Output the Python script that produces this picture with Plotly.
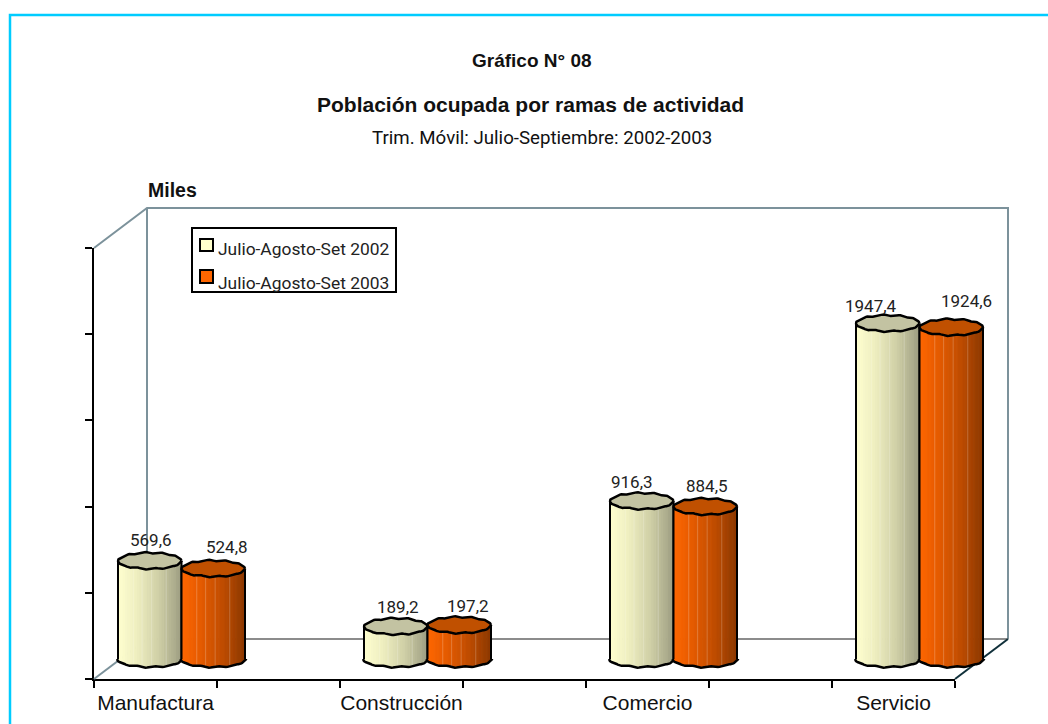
import numpy as np
import plotly.graph_objects as go

categories = ["Manufactura", "Construcción", "Comercio", "Servicio"]
series_names = ["Julio-Agosto-Set 2002", "Julio-Agosto-Set 2003"]
values_2002 = [569.6, 189.2, 916.3, 1947.4]
values_2003 = [524.8, 197.2, 884.5, 1924.6]
value_labels_2002 = ["569,6", "189,2", "916,3", "1947,4"]
value_labels_2003 = ["524,8", "197,2", "884,5", "1924,6"]

# labels were dragged by hand in the original, so each has its own shift (px)
shift_x_2002 = [1, 2, -10, -17]
shift_x_2003 = [14, 9, 2, 15]
shift_y_2002 = [2, 0, 0, -2]
shift_y_2003 = [3, 0, 2, 7]

W, H = 1048, 724
L, R, T, B = 94, 955, 248, 679
NARROW = "Roboto, Liberation Sans, Arial"
PLAIN = "Liberation Sans, Arial"

# axis scales
x_range = [-0.5, 6.5]
y_range = [0, 2500]
px_x = (R - L) / 7
px_y = (B - T) / 2500

# second pair of axes, same scale, wider, so the oblique box is not clipped
x2_range = [x_range[0] + (60 - L) / px_x, x_range[0] + (W - L) / px_x]
y2_range = [(B - 700) / px_y, (B - 190) / px_y]

# oblique depth of the fake 3d box, in axis units
dx_back = 53 / px_x
dy_back = 40 / px_y
bar_w = 63.5 / px_x
cap_h = 8 / px_y
n_strip = 26
facets = [0.24, 0.38, 0.53, 0.76]


def paper_x(p):
    return p / W


def paper_y(p):
    return 1 - p / H


def wavy(theta):
    return 1 + 0.1 * np.cos(11 * theta)


def shade(stops, t):
    ts = np.linspace(0, 1, len(stops))
    return "rgb(%d,%d,%d)" % tuple(round(np.interp(t, ts, [s[i] for s in stops])) for i in range(3))


stops_2002 = [(255, 255, 208), (236, 236, 190), (205, 205, 165), (158, 158, 130)]
stops_2003 = [(255, 102, 0), (226, 90, 0), (190, 76, 0), (140, 56, 0)]
cap_2002 = "#c3c3a2"
cap_2003 = "#c05000"

fig = go.Figure()

# carries the visible axes
fig.add_trace(go.Scatter(x=[0, 2, 4, 6], y=values_2002, mode="markers", marker=dict(opacity=0),
                         showlegend=False, hoverinfo="skip", xaxis="x", yaxis="y"))


def add_line(xs, ys, color, width=2):
    fig.add_trace(go.Scatter(x=xs, y=ys, mode="lines", showlegend=False, hoverinfo="skip",
                             line=dict(color=color, width=width), xaxis="x2", yaxis="y2"))


# back wall and floor of the box
x0, x1 = x_range
wall = "#7c929b"
add_line([x0 + dx_back, x0 + dx_back], [dy_back, 2500 + dy_back], wall)
add_line([x0, x0 + dx_back, x1 + dx_back, x1 + dx_back], [2500, 2500 + dy_back, 2500 + dy_back, dy_back], wall)
add_line([x0 + dx_back, x1 + dx_back], [dy_back, dy_back], "#8c8c8c")
add_line([x0, x0 + dx_back], [0, dy_back], wall)
add_line([x1, x1 + dx_back], [0, dy_back], "#10303a")


def add_cylinder(cx, val, stops, cap_color):
    base = dy_back / 2
    top = base + val
    rx = bar_w / 2
    edges = np.linspace(-1, 1, n_strip + 1)
    for i in range(n_strip):
        a, b = edges[i], edges[i + 1]
        col = shade(stops, (i + 0.5) / n_strip)
        ya = base - cap_h * np.sqrt(1 - a * a)
        yb = base - cap_h * np.sqrt(1 - b * b)
        fig.add_trace(go.Scatter(x=[cx + a * rx, cx + b * rx, cx + b * rx, cx + a * rx, cx + a * rx],
                                 y=[ya, yb, top, top, ya], mode="lines", fill="toself", fillcolor=col,
                                 line=dict(color=col, width=1), showlegend=False, hoverinfo="skip",
                                 xaxis="x2", yaxis="y2"))
    # faint facet lines of the original gradient
    for f in facets:
        t = 2 * f - 1
        add_line([cx + t * rx, cx + t * rx], [base - cap_h * np.sqrt(1 - t * t), top],
                 "rgba(255,255,255,0.22)", 1)
    # wavy front rim at the foot, plain sides
    th = np.linspace(np.pi, 2 * np.pi, 60)
    foot_x = cx + rx * np.cos(th) * 1.03
    foot_y = base + cap_h * np.sin(th) * wavy(th)
    add_line(list(foot_x), list(foot_y), "black", 2.5)
    add_line([cx - rx, cx - rx], [base, top], "black", 2)
    add_line([cx + rx, cx + rx], [base, top], "black", 2)
    th = np.linspace(0, 2 * np.pi, 120)
    fig.add_trace(go.Scatter(x=cx + rx * np.cos(th), y=top + cap_h * np.sin(th) * wavy(th), mode="lines",
                             fill="toself", fillcolor=cap_color, line=dict(color="black", width=2.5),
                             showlegend=False, hoverinfo="skip", xaxis="x2", yaxis="y2"))


annotations = []
for k in range(4):
    c = 2 * k + dx_back / 2 - 0.5 / px_x
    add_cylinder(c - bar_w / 2, values_2002[k], stops_2002, cap_2002)
    add_cylinder(c + bar_w / 2, values_2003[k], stops_2003, cap_2003)
    annotations.append(dict(x=c - bar_w / 2, y=values_2002[k] + dy_back / 2, xref="x2", yref="y2",
                            text=value_labels_2002[k], showarrow=False, yanchor="bottom",
                            xshift=shift_x_2002[k], yshift=7 + shift_y_2002[k],
                            font=dict(family=NARROW, size=17, color="#222222")))
    annotations.append(dict(x=c + bar_w / 2, y=values_2003[k] + dy_back / 2, xref="x2", yref="y2",
                            text=value_labels_2003[k], showarrow=False, yanchor="bottom",
                            xshift=shift_x_2003[k], yshift=7 + shift_y_2003[k],
                            font=dict(family=NARROW, size=17, color="#222222")))


def text_px(x, y, s, size, family=NARROW, anchor="center", color="#111111"):
    annotations.append(dict(x=paper_x(x), y=paper_y(y), xref="paper", yref="paper", text=s, showarrow=False,
                            xanchor=anchor, yanchor="middle", font=dict(family=family, size=size, color=color)))


text_px(532, 60, "<b>Gráfico N° 08</b>", 19, PLAIN)
text_px(530, 105, "<b>Población ocupada por ramas de actividad</b>", 21, PLAIN)
text_px(541.5, 138, "Trim. Móvil: Julio-Septiembre: 2002-2003", 18.7)
text_px(146, 190, "<b>Miles</b>", 19.5, PLAIN, "left")
text_px(215.5, 249, series_names[0], 17.4, NARROW, "left", "#222222")
text_px(215.5, 283, series_names[1], 17.4, NARROW, "left", "#222222")


def rect_px(x0, y0, x1, y1, line_color, width, fill=None):
    return dict(type="rect", xref="paper", yref="paper", x0=paper_x(x0), x1=paper_x(x1), y0=paper_y(y0),
                y1=paper_y(y1), line=dict(color=line_color, width=width), fillcolor=fill, layer="above")


shapes = [
    rect_px(192, 228, 396, 292, "black", 2, "white"),
    rect_px(200, 239, 213, 251, "black", 2, "#ffffcc"),
    rect_px(200, 270, 213, 283, "black", 2, "#ff6600"),
    rect_px(10, 15, 1100, 800, "#00ccff", 2.5),
]

edges = list(np.arange(x_range[0], x_range[1] + 1))
fig.update_layout(
    width=W, height=H, margin=dict(l=0, r=0, t=0, b=0, pad=0, autoexpand=False),
    paper_bgcolor="white", plot_bgcolor="rgba(0,0,0,0)", showlegend=False,
    annotations=annotations, shapes=shapes,
    xaxis=dict(domain=[L / W, R / W], anchor="y", range=x_range, tickmode="array", tickvals=[0, 2, 4, 6],
               ticktext=categories, ticks="", showgrid=False, zeroline=False, showline=True,
               linecolor="black", linewidth=2, tickfont=dict(family=PLAIN, size=21, color="#111111"),
               ticklabelstandoff=4,
               minor=dict(tickmode="array", tickvals=edges, ticks="outside", ticklen=7, tickwidth=2,
                          tickcolor="black", showgrid=False)),
    yaxis=dict(domain=[1 - B / H, 1 - T / H], anchor="x", range=y_range, tickmode="array",
               tickvals=[0, 500, 1000, 1500, 2000, 2500], showticklabels=False, ticks="outside", ticklen=7,
               tickwidth=2, tickcolor="black", showgrid=False, zeroline=False, showline=True,
               linecolor="black", linewidth=2),
    xaxis2=dict(domain=[60 / W, 1], anchor="y2", range=x2_range, visible=False),
    yaxis2=dict(domain=[1 - 700 / H, 1 - 190 / H], anchor="x2", range=y2_range, visible=False),
)

fig.write_html("out.html", config=dict(displayModeBar=False), post_script="document.body.style.margin='0';")
